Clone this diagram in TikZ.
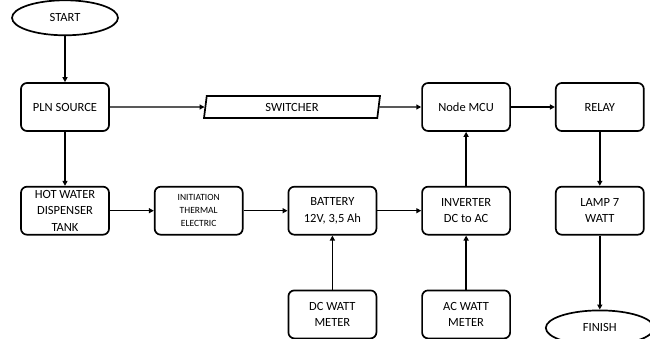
\documentclass[tikz,border=0pt]{standalone}
\usepackage{fontspec}
\setmainfont{Carlito}
\usetikzlibrary{arrows.meta, positioning, shapes.geometric}

\begin{document}
\begin{tikzpicture}[x=1pt, y=1pt,
      node distance=54pt and 44pt,
      box/.style={draw, line width=1.7pt, rounded corners=6pt, align=center,
                  font=\fontsize{12.5}{16.5}\selectfont,
                  inner sep=1pt, minimum width=88pt, minimum height=48pt},
      term/.style={draw, ellipse, line width=1.7pt, font=\fontsize{12.5}{15}\selectfont,
                   minimum width=106pt, minimum height=35pt},
      io/.style={draw, trapezium, trapezium left angle=75, trapezium right angle=105,
                 trapezium stretches body, line width=1.7pt,
                 font=\fontsize{12.5}{15}\selectfont,
                 minimum width=176pt, minimum height=22pt, inner sep=1pt},
      flow/.style={->, line width=1.4pt},
      >={Triangle[length=5pt, width=5pt]}]
    \useasboundingbox (0,0) rectangle (650,-339);
    \node[box] (pln) at (65,-107) {PLN SOURCE};
    \node[term, above=46pt of pln] (start) {START};
    \node[box, below=of pln] (tank) {HOT WATER\\DISPENSER\\TANK};
    \node[box, right=of tank, font=\fontsize{9.5}{13}\selectfont] (init)
      {INITIATION\\THERMAL\\ELECTRIC};
    \node[box, right=of init] (batt) {BATTERY\\12V, 3,5 Ah};
    \node[box, right=of batt] (inv) {INVERTER\\DC to AC};
    \node[box, right=of inv] (lamp) {LAMP 7\\WATT};
    \node[box, below=of batt] (dcm) {DC WATT\\METER};
    \node[box, below=of inv] (acm) {AC WATT\\METER};
    \node[box] (mcu) at (inv |- pln) {Node MCU};
    \node[box] (relay) at (lamp |- pln) {RELAY};
    \node[io] (sw) at (292,-107) {SWITCHER};
    \node[term, below=74pt of lamp, minimum width=108pt] (finish) {FINISH};
    % main line
    \draw[flow] (start) -- (pln);
    \draw[flow] (pln) -- (sw);
    \draw[flow] (sw) -- (mcu);
    \draw[flow] (mcu) -- (relay);
    \draw[flow] (relay) -- (lamp);
    \draw[flow] (lamp) -- (finish);
    % thermal line
    \draw[flow] (pln) -- (tank);
    \draw[flow] (tank) -- (init);
    \draw[flow] (init) -- (batt);
    \draw[flow] (batt) -- (inv);
    \draw[flow] (inv) -- (mcu);
    \draw[flow] (dcm) -- (batt);
    \draw[flow] (acm) -- (inv);
  \end{tikzpicture}
\end{document}
